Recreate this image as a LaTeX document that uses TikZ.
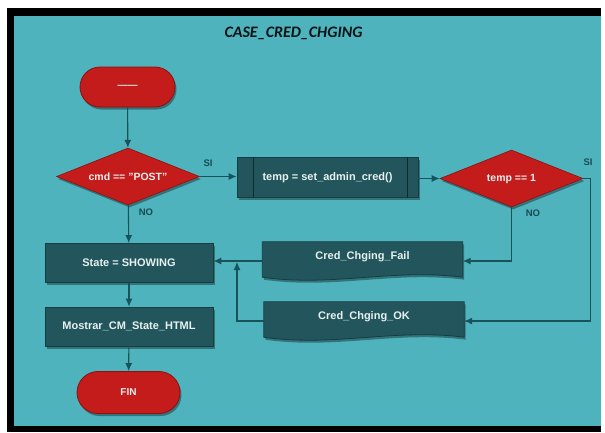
\documentclass[tikz,border=0pt]{standalone}
\usepackage{fontspec}
\setmainfont{Liberation Sans}
\newfontfamily\titlefont{Carlito}
\usetikzlibrary{shapes.geometric,shapes.misc,arrows.meta,shadows}
\definecolor{bgteal}{HTML}{4FB3BD}
\definecolor{boxfill}{HTML}{22565C}
\definecolor{boxedge}{HTML}{163D42}
\definecolor{redfill}{HTML}{C41B1B}
\definecolor{rededge}{HTML}{8A1212}
\definecolor{linecol}{HTML}{18525A}
\definecolor{labelcol}{HTML}{1A4A52}
\definecolor{boxtext}{HTML}{E8F0F0}
\pgfdeclarelayer{background}
\pgfdeclarelayer{frame}
\pgfsetlayers{frame,background,main}
\begin{document}
\begin{tikzpicture}[x=1pt,y=-1pt,
  conn/.style={draw=linecol, line width=1.1pt, -{Latex[length=8pt,width=7pt]}},
  plain/.style={draw=linecol, line width=1.1pt},
  shad/.style={drop shadow={shadow xshift=1.5pt, shadow yshift=-2.5pt, opacity=0.35, fill=black}},
  termbox/.style={rounded rectangle, fill=redfill, draw=rededge, line width=0.8pt, shad,
    text=boxtext, font=\fontsize{10}{12}\selectfont\bfseries, inner sep=0pt},
  decbox/.style={diamond, fill=redfill, draw=rededge, line width=0.6pt, shad, aspect=2.5,
    inner sep=0pt, minimum width=143pt, minimum height=57pt,
    text=boxtext, font=\fontsize{10.5}{12}\selectfont\bfseries},
  procbox/.style={rectangle, fill=boxfill, draw=boxedge, line width=0.8pt, shad,
    minimum width=168pt, minimum height=39pt, inner sep=0pt,
    text=boxtext, font=\fontsize{11}{13}\selectfont\bfseries},
  doctext/.style={rectangle, inner sep=0pt, minimum width=200pt, minimum height=38pt,
    text depth=10pt, text=boxtext, font=\fontsize{11}{13}\selectfont\bfseries},
  docshape/.style={fill=boxfill, draw=boxedge, line width=0.8pt, shad},
  lbl/.style={text=labelcol, font=\fontsize{9.5}{10}\selectfont\bfseries, inner sep=0pt}
]
% frame
\begin{pgfonlayer}{frame}
\fill[white] (0,0) rectangle (605,432);
\fill[black] (7,8) rectangle (601,432);
\fill[bgteal] (14,16) rectangle (601,426);
\end{pgfonlayer}
\useasboundingbox (0,0) rectangle (605,432);

% title
\node[font=\titlefont\fontsize{16}{18}\selectfont\bfseries\itshape, text=black!75!labelcol] (title) at (293.5,33) {CASE\_CRED\_CHGING};

% nodes
\node[termbox, minimum width=95pt, minimum height=40pt] (start) at (127.5,87) {\textemdash\textemdash};
\node[decbox] (d1) at (128,176.5) {cmd == "POST"};
\node[procbox, minimum width=181pt, minimum height=40pt] (proc) at (327.5,177.5) {temp = set\_admin\_cred()};
\draw[boxedge!70!black, line width=0.8pt] ([xshift=17pt]proc.north west) -- ([xshift=17pt]proc.south west);
\draw[boxedge!70!black, line width=0.8pt] ([xshift=-11pt]proc.north east) -- ([xshift=-11pt]proc.south east);
\node[decbox] (d2) at (511.5,178.5) {temp == 1};
\node[procbox] (state) at (129,263) {State = SHOWING};
\node[procbox] (show) at (129,326.5) {Mostrar\_CM\_State\_HTML};
\node[termbox, minimum width=103pt, minimum height=42pt] (fin) at (128.5,392.5) {FIN};

\node[doctext] (fail) at (362.5,261) {Cred\_Chging\_Fail};
\node[doctext] (ok) at (364,321) {Cred\_Chging\_OK};
\begin{pgfonlayer}{background}
\path[docshape] (fail.north west) -- (fail.north east) -- ([yshift=3pt]fail.south east)
  .. controls ([xshift=-70pt,yshift=12pt]fail.south east) and ([xshift=70pt,yshift=-7pt]fail.south west) ..
  ([yshift=3pt]fail.south west) -- cycle;
\path[docshape] (ok.north west) -- (ok.north east) -- ([yshift=3pt]ok.south east)
  .. controls ([xshift=-70pt,yshift=12pt]ok.south east) and ([xshift=70pt,yshift=-7pt]ok.south west) ..
  ([yshift=3pt]ok.south west) -- cycle;
\end{pgfonlayer}

% labels
\node[lbl] (si1) at (208,163) {SI};
\node[lbl] (no1) at (146,212) {NO};
\node[lbl] (si2) at (588,162) {SI};
\node[lbl] (no2) at (533,213) {NO};

% connectors
\draw[conn] (start) -- (d1);
\draw[conn] (d1.east) -- (d1.east -| proc.west);
\draw[conn] (proc.east |- d2.west) -- (d2.west);
\draw[conn] (d2.south) |- (fail.east);
\coordinate (r2) at ([xshift=7pt]d2.east);
\draw[conn] (d2.east) -- (r2) |- (ok.east);
\draw[conn] (fail.west) -- (fail.west -| state.east);
\coordinate (j) at (237,261);
\draw[conn, shorten >=1pt] (ok.west) -| (j);
\draw[conn] (d1) -- (state);
\draw[conn] (state) -- (show);
\draw[conn] (show) -- (fin);
\end{tikzpicture}
\end{document}
